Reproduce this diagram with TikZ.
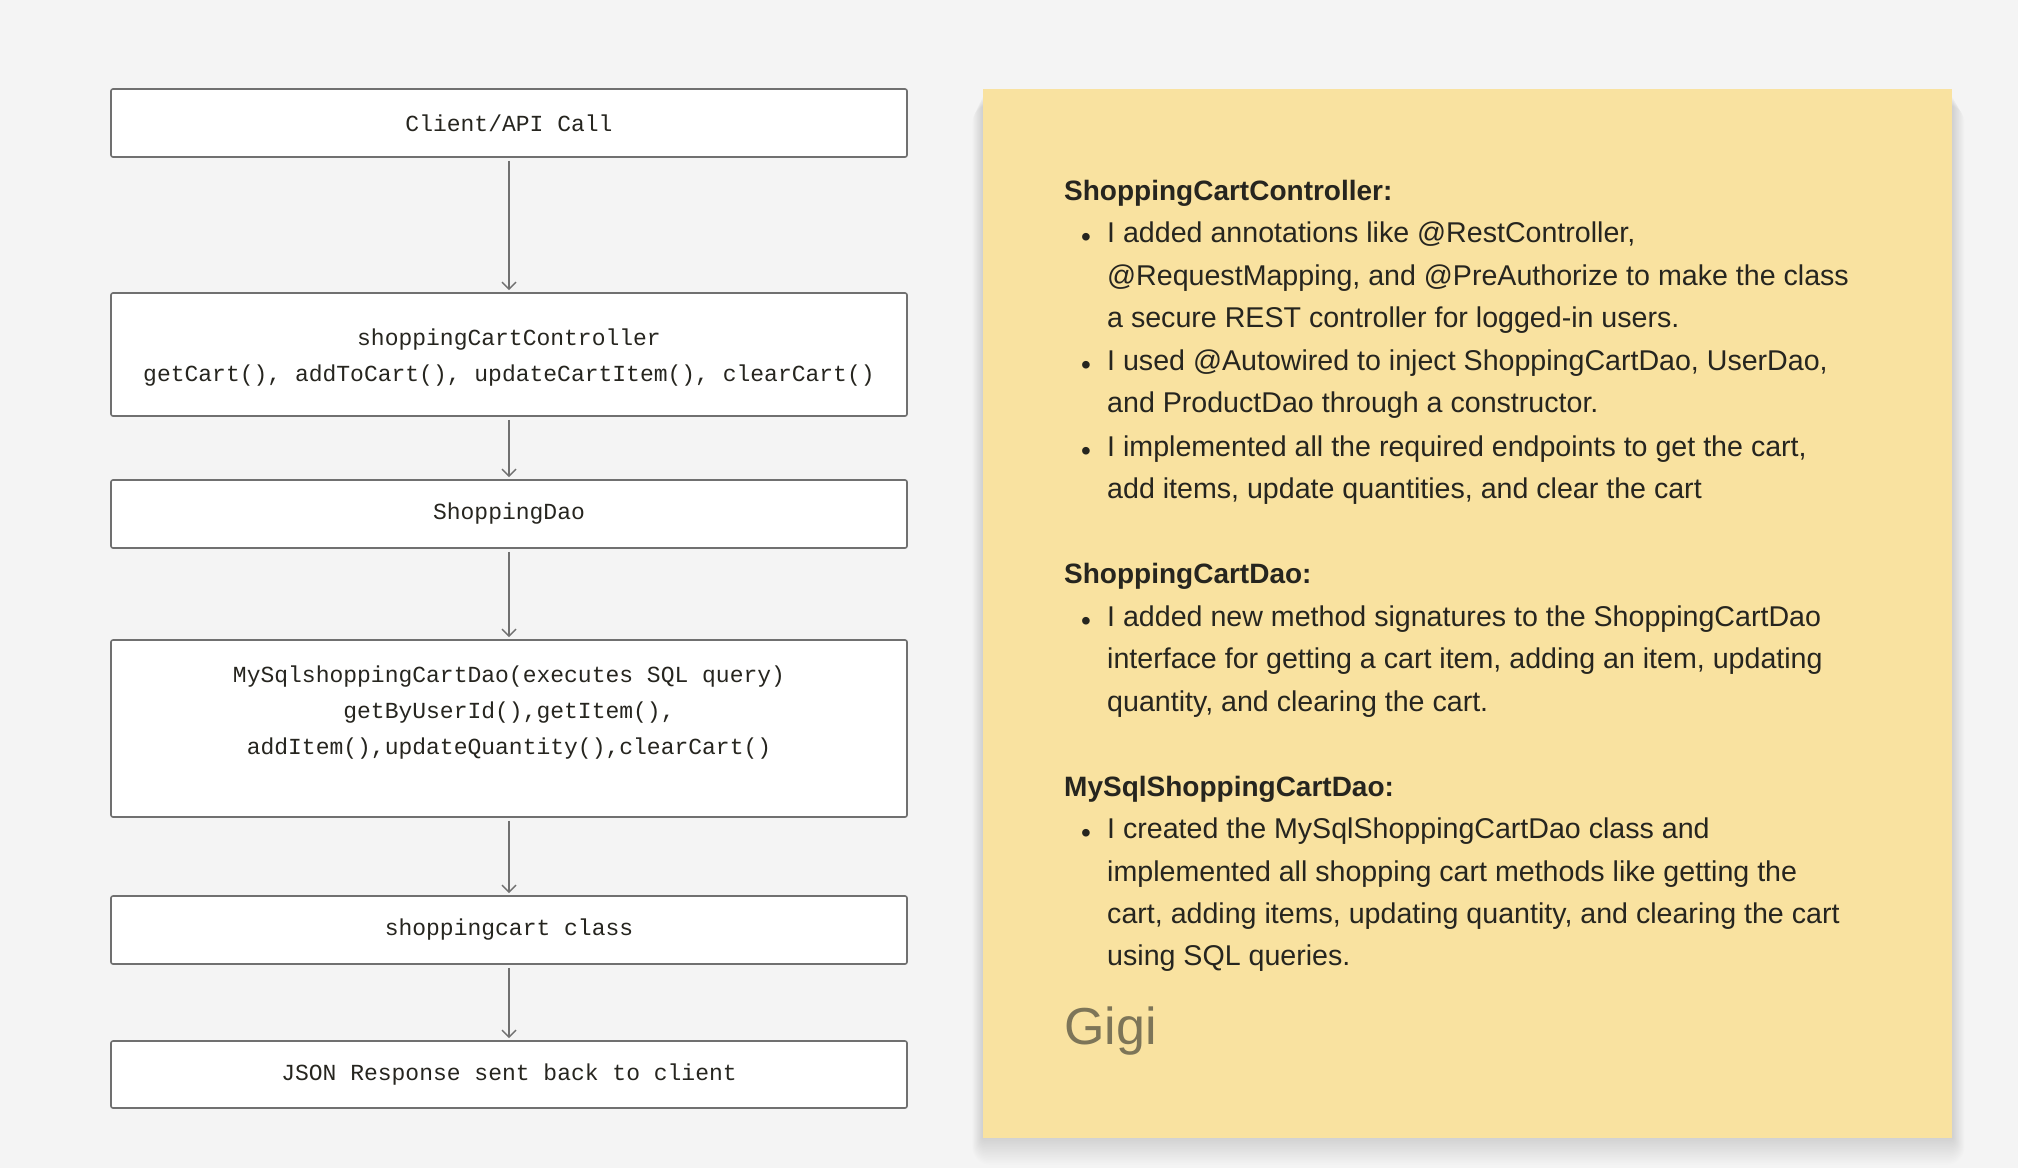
\documentclass[tikz,border=0pt]{standalone}
\usepackage{fontspec}
\setmainfont{Liberation Sans}
\setmonofont{Liberation Mono}
\usetikzlibrary{arrows.meta}
\definecolor{bg}{HTML}{F4F4F4}
\definecolor{boxline}{HTML}{707070}
\definecolor{note}{HTML}{F9E2A0}
\definecolor{ink}{HTML}{26251F}
\definecolor{sig}{HTML}{7D7558}
\begin{document}
\begin{tikzpicture}[x=1pt,y=-1pt,
  flowbox/.style={draw=boxline, line width=1.6pt, fill=white, rounded corners=2pt, minimum width=796pt, inner sep=0pt, font=\fontsize{23}{36}\selectfont\ttfamily, text=ink, align=center},
  flowarrow/.style={draw=boxline, line width=1.4pt, -{Straight Barb[length=7pt,width=14pt]}, shorten <=3pt, shorten >=2pt},
  heading/.style={anchor=mid west, font=\fontsize{28}{34}\selectfont\bfseries, text=ink, inner sep=0pt},
  bodyline/.style={anchor=mid west, font=\fontsize{28.6}{34}\selectfont, text=ink, inner sep=0pt},
  bulletdot/.style={anchor=center, font=\fontsize{28}{34}\selectfont, text=ink, inner sep=0pt},
  shadowlayer/.style={fill=black, opacity=0.009},
  sticky/.style={fill=note, draw=none}]
\useasboundingbox (0,0) rectangle (2018,1168);
\fill[bg] (0,0) rectangle (2018,1168);

% flow boxes
\node[flowbox, minimum height=68pt] (b1) at (509,123) {Client/API Call};
\node[flowbox, minimum height=123pt] (b2) at (509,354.5) {\rule{0pt}{22pt}shoppingCartController\\getCart(), addToCart(), updateCartItem(), clearCart()};
\node[flowbox, minimum height=68pt] (b3) at (509,514) {ShoppingDao};
\node[flowbox, minimum height=177pt] (b4) at (509,728.5) {MySqlshoppingCartDao(executes SQL query)\\getByUserId(),getItem(),\\addItem(),updateQuantity(),clearCart()\\\mbox{}};
\node[flowbox, minimum height=68pt] (b5) at (509,930) {shoppingcart class};
\node[flowbox, minimum height=67pt] (b6) at (509,1074.5) {JSON Response sent back to client};

\draw[flowarrow] (b1) -- (b2);
\draw[flowarrow] (b2) -- (b3);
\draw[flowarrow] (b3) -- (b4);
\draw[flowarrow] (b4) -- (b5);
\draw[flowarrow] (b5) -- (b6);

% sticky note with soft shadow
\foreach \i in {1,...,18}
  \fill[shadowlayer, rounded corners=\i pt] (983-0.6*\i, 96+0.5*\i) rectangle (1952+0.7*\i, 1136+1.6*\i);
\path[sticky] (983,89) rectangle (1952,1138);

\node[heading] (h1) at (1064,198) {ShoppingCartController:};
\node[bulletdot] (d1) at (1086,240) {\textbullet};
\node[bodyline] (l1) at (1107,240) {I added annotations like @RestController,};
\node[bodyline] (l2) at (1107,283) {@RequestMapping, and @PreAuthorize to make the class};
\node[bodyline] (l3) at (1107,325) {a secure REST controller for logged-in users.};
\node[bulletdot] (d2) at (1086,368) {\textbullet};
\node[bodyline] (l4) at (1107,368) {I used @Autowired to inject ShoppingCartDao, UserDao,};
\node[bodyline] (l5) at (1107,410) {and ProductDao through a constructor.};
\node[bulletdot] (d3) at (1086,454) {\textbullet};
\node[bodyline] (l6) at (1107,454) {I implemented all the required endpoints to get the cart,};
\node[bodyline] (l7) at (1107,496) {add items, update quantities, and clear the cart};

\node[heading] (h2) at (1064,581) {ShoppingCartDao:};
\node[bulletdot] (d4) at (1086,624) {\textbullet};
\node[bodyline] (l8) at (1107,624) {I added new method signatures to the ShoppingCartDao};
\node[bodyline] (l9) at (1107,666) {interface for getting a cart item, adding an item, updating};
\node[bodyline] (l10) at (1107,709) {quantity, and clearing the cart.};

\node[heading] (h3) at (1064,794) {MySqlShoppingCartDao:};
\node[bulletdot] (d5) at (1086,836) {\textbullet};
\node[bodyline] (l11) at (1107,836) {I created the MySqlShoppingCartDao class and};
\node[bodyline] (l12) at (1107,879) {implemented all shopping cart methods like getting the};
\node[bodyline] (l13) at (1107,921) {cart, adding items, updating quantity, and clearing the cart};
\node[bodyline] (l14) at (1107,963) {using SQL queries.};

\node[anchor=mid west, font=\fontsize{52}{60}\selectfont, text=sig, inner sep=0pt] (sg) at (1064,1042) {Gigi};
\end{tikzpicture}
\end{document}
